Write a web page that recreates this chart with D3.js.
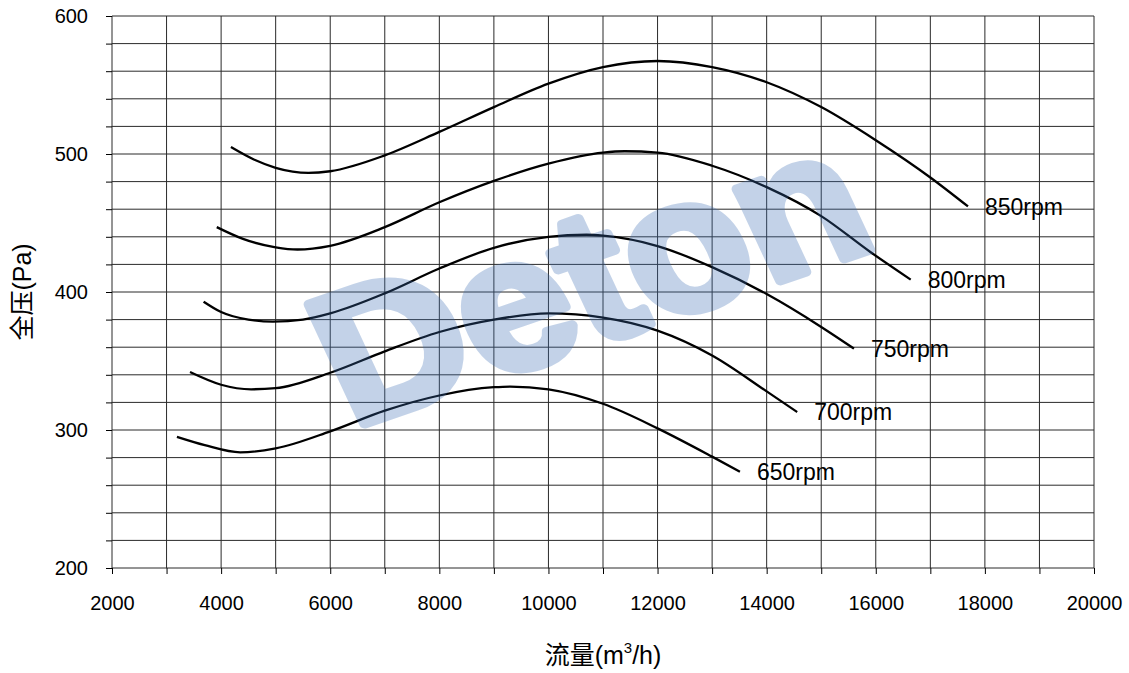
<!DOCTYPE html>
<html>
<head>
<meta charset="utf-8">
<script src="https://cdn.jsdelivr.net/npm/d3@7"></script>
<style>
  html, body { margin: 0; padding: 0; background: #fff; }
  svg { display: block; }
  text { font-family: "Liberation Sans", Arial, "Noto Sans CJK SC", sans-serif; fill: #000; }
</style>
</head>
<body>
<svg id="chart" width="1129" height="673"></svg>
<script>
// ---- data (flow m3/h, total pressure Pa) ----
const xTicksLabeled = [2000, 4000, 6000, 8000, 10000, 12000, 14000, 16000, 18000, 20000];
const yTicksLabeled = [200, 300, 400, 500, 600];

const flow850 = [4180, 4600, 5000, 5600, 6000, 7000, 8000, 9000, 10000, 11000, 12000, 13000, 14000, 15000, 16000, 17000, 17690];
const pres850 = [505, 496, 490, 486.3, 487.5, 499, 516, 534, 551, 563, 567.4, 563, 552, 534, 510, 483, 462];

const flow800 = [3920, 4400, 5000, 5400, 6000, 7000, 8000, 9000, 10000, 11000, 11400, 12000, 13000, 14000, 15000, 15900, 16640];
const pres800 = [447, 438.5, 432.4, 430.8, 433.5, 447, 465, 480.5, 493, 501, 502, 501, 491.5, 476, 455, 429, 409];

const flow750 = [3680, 4000, 4500, 4950, 5500, 6000, 7000, 8000, 9000, 10000, 10700, 11000, 12000, 13000, 14000, 15000, 15600];
const pres750 = [393, 385.5, 380, 378.5, 380, 384.5, 399, 417, 432, 440, 441.5, 440.8, 433.3, 418, 398.5, 374.7, 359];

const flow700 = [3430, 4000, 4550, 5000, 6000, 7000, 8000, 9000, 10000, 11000, 12000, 13000, 14000, 14560];
const pres700 = [342, 332.8, 329.5, 330.3, 341.5, 357, 371, 380, 384.5, 381.5, 372, 354, 328, 313];

const flow650 = [3190, 3700, 4350, 5000, 6000, 7000, 8000, 9000, 9300, 10000, 11000, 12000, 13000, 13510];
const pres650 = [295, 289, 283.8, 286.7, 299, 314, 325, 331, 331.5, 329.5, 319, 301.2, 280.7, 269.8];

const seriesNames = ["850rpm", "800rpm", "750rpm", "700rpm", "650rpm"];
const seriesFlows = [flow850, flow800, flow750, flow700, flow650];
const seriesPres  = [pres850, pres800, pres750, pres700, pres650];

const xTitle = "流量(m";
const xTitleSup = "3";
const xTitleEnd = "/h)";
const yTitle = "全压(Pa)";
const watermark = "Deton";

// ---- layout ----
const W = 1129, H = 673;
const margin = { left: 112, right: 35, top: 16, bottom: 105 };
const svg = d3.select("#chart");

const x = d3.scaleLinear().domain([2000, 20000]).range([margin.left, W - margin.right]);
const y = d3.scaleLinear().domain([200, 600]).range([H - margin.bottom, margin.top]);

const xGrid = d3.range(2000, 20001, 1000);
const yGrid = d3.range(200, 601, 20);

// grid
const grid = svg.append("g").attr("stroke", "#2a2a2a").attr("stroke-width", 1);
grid.selectAll("line.v").data(xGrid).join("line")
  .attr("x1", d => x(d)).attr("x2", d => x(d))
  .attr("y1", y(200)).attr("y2", y(600));
grid.selectAll("line.h").data(yGrid).join("line")
  .attr("x1", x(2000)).attr("x2", x(20000))
  .attr("y1", d => y(d)).attr("y2", d => y(d));

// axes
const xAxis = d3.axisBottom(x).tickValues(xGrid).tickSize(6).tickPadding(22)
  .tickFormat(d => xTicksLabeled.includes(d) ? d : "");
const gx = svg.append("g").attr("transform", `translate(0,${y(200)})`).call(xAxis);
gx.select(".domain").remove();
gx.selectAll("text").attr("font-size", 20).attr("font-family", "Liberation Sans, Arial, sans-serif");

const yAxis = d3.axisLeft(y).tickValues(yGrid).tickSize(6).tickPadding(18)
  .tickFormat(d => yTicksLabeled.includes(d) ? d : "");
const gy = svg.append("g").attr("transform", `translate(${x(2000)},0)`).call(yAxis);
gy.select(".domain").remove();
gy.selectAll("text").attr("font-size", 20).attr("font-family", "Liberation Sans, Arial, sans-serif");

// curves
const line = d3.line().x(d => x(d[0])).y(d => y(d[1])).curve(d3.curveMonotoneX);
seriesNames.forEach((name, i) => {
  const pts = seriesFlows[i].map((f, j) => [f, seriesPres[i][j]]);
  svg.append("path").datum(pts)
    .attr("d", line)
    .attr("fill", "none")
    .attr("stroke", "#000")
    .attr("stroke-width", 2.3);
  const last = pts[pts.length - 1];
  svg.append("text")
    .attr("x", x(last[0]) + 17)
    .attr("y", y(last[1]))
    .attr("dy", "0.36em")
    .attr("font-size", 23)
    .text(name);
});

// watermark (semi-transparent, on top)
svg.append("text")
  .attr("transform", "translate(352,428) rotate(-19) skewX(6)")
  .attr("font-family", "DejaVu Sans, sans-serif")
  .attr("font-weight", "bold")
  .attr("font-size", 190)
  .attr("textLength", 560)
  .attr("lengthAdjust", "spacingAndGlyphs")
  .attr("stroke", "rgb(60,110,180)")
  .attr("stroke-width", 10)
  .attr("stroke-linejoin", "round")
  .attr("opacity", 0.3)
  .style("fill", "rgb(60,110,180)")
  .text(watermark);

// axis titles
const xt = svg.append("text")
  .attr("x", (x(2000) + x(20000)) / 2)
  .attr("y", 664)
  .attr("text-anchor", "middle")
  .attr("font-size", 25)
  .attr("font-family", "Liberation Sans, Arial, Noto Sans CJK SC, sans-serif");
xt.append("tspan").text(xTitle);
xt.append("tspan").attr("font-size", 15).attr("dy", -11).text(xTitleSup);
xt.append("tspan").attr("dy", 11).text(xTitleEnd);

svg.append("text")
  .attr("transform", `translate(31,${(y(200) + y(600)) / 2}) rotate(-90)`)
  .attr("text-anchor", "middle")
  .attr("font-size", 25)
  .attr("font-family", "Liberation Sans, Arial, Noto Sans CJK SC, sans-serif")
  .text(yTitle);
</script>
</body>
</html>
